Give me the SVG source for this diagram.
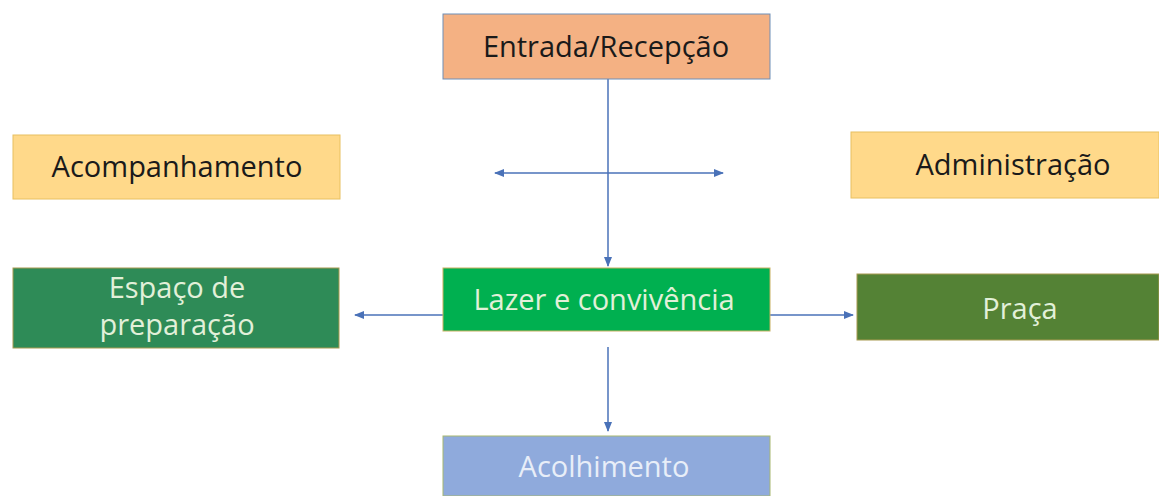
<svg xmlns="http://www.w3.org/2000/svg" width="1159" height="496" viewBox="0 0 1159 496">
<style>
text{font-family:"Open Sans","Liberation Sans",sans-serif;font-size:29px;text-anchor:middle}
.dark{fill:#1a1a1a}
.light{fill:#E2F0D9}
.conn{stroke:#4A72B8;stroke-width:1.5;fill:none}
</style>
<defs>
<marker id="ah" markerWidth="10" markerHeight="8" refX="9" refY="4" orient="auto-start-reverse" markerUnits="userSpaceOnUse">
<path d="M0,0 L10,4 L0,8 Z" fill="#4A72B8"/>
</marker>
</defs>
<rect width="1159" height="496" fill="#ffffff"/>
<g id="connectors">
<line class="conn" x1="608" y1="79" x2="608" y2="266" marker-end="url(#ah)"/>
<line class="conn" x1="495" y1="173" x2="723" y2="173" marker-start="url(#ah)" marker-end="url(#ah)"/>
<line class="conn" x1="443" y1="315" x2="355" y2="315" marker-end="url(#ah)"/>
<line class="conn" x1="770" y1="315" x2="853" y2="315" marker-end="url(#ah)"/>
<line class="conn" x1="608" y1="347" x2="608" y2="431" marker-end="url(#ah)"/>
</g>
<g id="entrada">
<rect x="443" y="14" width="327" height="65" fill="#F4B183" stroke="#6F8FB8" stroke-width="1"/>
<text class="dark" x="606" y="57">Entrada/Recepção</text>
</g>
<g id="acompanhamento">
<rect x="13" y="135" width="327" height="64" fill="#FFD98A" stroke="#E8C060" stroke-width="1"/>
<text class="dark" x="177" y="177">Acompanhamento</text>
</g>
<g id="administracao">
<rect x="851" y="132" width="308" height="66" fill="#FFD98A" stroke="#E8C060" stroke-width="1"/>
<text class="dark" x="1013" y="175">Administração</text>
</g>
<g id="espaco">
<rect x="13" y="268" width="326" height="80" fill="#2E8B57" stroke="#A89A50" stroke-width="1"/>
<text class="light" x="177" y="298">Espaço de</text>
<text class="light" x="177" y="335">preparação</text>
</g>
<g id="lazer">
<rect x="443" y="268" width="327" height="63" fill="#00B050" stroke="#C8B060" stroke-width="1"/>
<text class="light" x="604" y="310">Lazer e convivência</text>
</g>
<g id="praca">
<rect x="857" y="274" width="302" height="66" fill="#548235" stroke="#A89A50" stroke-width="1"/>
<text class="light" x="1020" y="319">Praça</text>
</g>
<g id="acolhimento">
<rect x="443" y="436" width="327" height="60" fill="#8FAADC" stroke="#A8B870" stroke-width="1"/>
<text fill="#E8EEF8" x="604" y="477">Acolhimento</text>
</g>
</svg>
